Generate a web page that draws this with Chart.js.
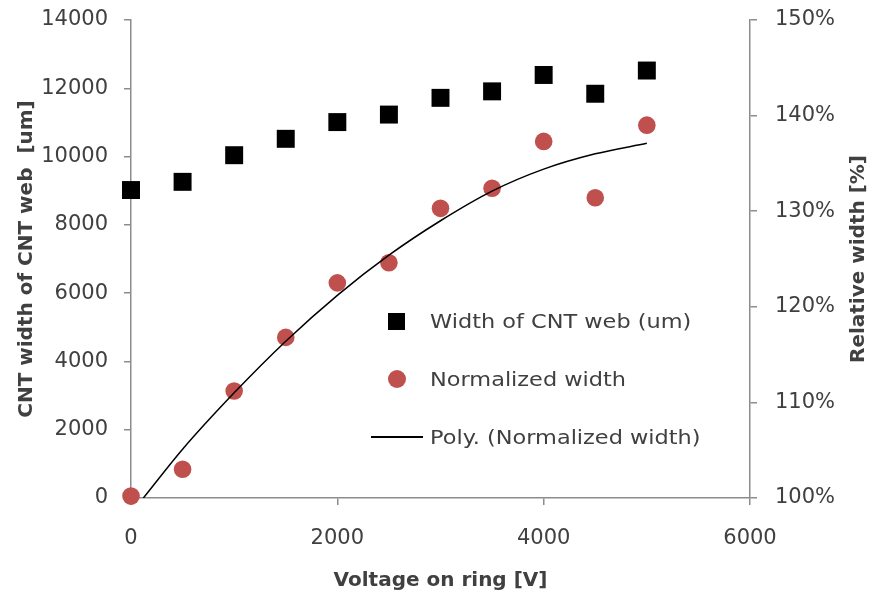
<!DOCTYPE html>
<html>
<head>
<meta charset="utf-8">
<script src="https://cdn.jsdelivr.net/npm/chart.js@4.4.1/dist/chart.umd.min.js"></script>
<style>
  html, body { margin: 0; padding: 0; background: #ffffff; }
  #wrap { position: relative; width: 870px; height: 592px; }
  canvas { display: block; }
  #legend { position: absolute; left: 0; top: 0; width: 870px; height: 592px; pointer-events: none;
            font-family: "DejaVu Sans", sans-serif; color: #404040; }
  .lg-text { position: absolute; left: 430px; height: 30px; line-height: 30px; font-size: 19px;
             white-space: nowrap; transform: scaleX(1.18); transform-origin: left center; }
  .lg-sym { position: absolute; }
</style>
</head>
<body>
<div id="wrap">
  <canvas id="chart" width="870" height="592"></canvas>
  <div id="legend"></div>
</div>
<script>
// Ring voltage [V]
const voltage = [0, 500, 1000, 1500, 2000, 2500, 3000, 3500, 4000, 4500, 5000];
// Width of the CNT web [um]
const webWidthUm = [9020, 9260, 10040, 10520, 11010, 11230, 11720, 11910, 12390, 11840, 12520];
// Width relative to the 0 V web [%]
const normalizedPct = [100.2, 103.0, 111.2, 116.8, 122.5, 124.6, 130.3, 132.4, 137.3, 131.4, 139.0];
// Polynomial trend of the normalized width
const trendVoltage = [120, 500, 1000, 1500, 2000, 2500, 3000, 3500, 4000, 4500, 5000];
const trendPct = [100.0, 105.1, 111.0, 116.4, 121.2, 125.4, 129.0, 132.1, 134.4, 136.0, 137.1];

const seriesLabels = ['Width of CNT web (um)', 'Normalized width', 'Poly. (Normalized width)'];
const xTicks = [0, 2000, 4000, 6000];
const leftTicks = [0, 2000, 4000, 6000, 8000, 10000, 12000, 14000];
const rightTicks = [100, 110, 120, 130, 140, 150];
const xTitle = 'Voltage on ring [V]';
const leftTitle = 'CNT width of CNT web  [um]';
const rightTitle = 'Relative width [%]';

const AXIS = '#8c8c8c';
const TEXT = '#404040';
const RED = '#c0504d';
const tickFont = { family: '"DejaVu Sans"', size: 21 };
const titleFont = { family: '"DejaVu Sans"', size: 20, weight: 'bold', lineHeight: 1 };

const pairs = (xs, ys) => xs.map((x, i) => ({ x: x, y: ys[i] }));
const fixedTicks = list => scale => { scale.ticks = list.map(v => ({ value: v })); };

function axisGrid() {
  return { display: true, drawOnChartArea: false, drawTicks: true, tickLength: 7,
           color: AXIS, lineWidth: 1.5 };
}

// vertical axes: fixed width, no extra room reserved for the end labels
const fitVertical = width => s => {
  s.width = width;
  s.paddingTop = 0;
  s.paddingBottom = 0;
};

// right-hand axis title, reading bottom to top
const rightTitlePlugin = {
  id: 'rightTitle',
  afterDraw(chart, args, opts) {
    const { ctx, chartArea } = chart;
    ctx.save();
    ctx.translate(opts.x, (chartArea.top + chartArea.bottom) / 2);
    ctx.rotate(-Math.PI / 2);
    ctx.font = 'bold 20px "DejaVu Sans"';
    ctx.fillStyle = TEXT;
    ctx.textAlign = 'center';
    ctx.textBaseline = 'middle';
    ctx.fillText(opts.text, 0, 0);
    ctx.restore();
  }
};

const chart = new Chart(document.getElementById('chart'), {
  type: 'scatter',
  data: {
    datasets: [
      {
        label: seriesLabels[2],
        data: pairs(trendVoltage, trendPct),
        yAxisID: 'y1',
        showLine: true,
        borderColor: '#000000',
        borderWidth: 1.5,
        pointRadius: 0,
        cubicInterpolationMode: 'monotone',
        order: 0
      },
      {
        label: seriesLabels[0],
        data: pairs(voltage, webWidthUm),
        yAxisID: 'y',
        pointStyle: 'rect',
        pointRadius: 12.7,
        backgroundColor: '#000000',
        borderColor: '#000000',
        borderWidth: 0,
        clip: false,
        order: 2
      },
      {
        label: seriesLabels[1],
        data: pairs(voltage, normalizedPct),
        yAxisID: 'y1',
        pointStyle: 'circle',
        pointRadius: 8.8,
        backgroundColor: RED,
        borderColor: RED,
        borderWidth: 0,
        clip: false,
        order: 1
      }
    ]
  },
  options: {
    responsive: false,
    animation: false,
    devicePixelRatio: 1,
    layout: { padding: { top: 20, left: 0, right: 0, bottom: 0 } },
    plugins: {
      legend: { display: false },
      tooltip: { enabled: false },
      rightTitle: { text: rightTitle, x: 859 }
    },
    scales: {
      x: {
        type: 'linear',
        position: 'bottom',
        min: 0, max: 6000,
        afterBuildTicks: fixedTicks(xTicks),
        afterFit: s => { s.height = 94; s.paddingLeft = 0; s.paddingRight = 0; },
        grid: axisGrid(),
        border: { display: true, color: AXIS, width: 1.5 },
        ticks: { font: tickFont, color: TEXT, padding: 21, maxRotation: 0, callback: v => String(v) },
        title: { display: true, text: xTitle, font: titleFont, color: TEXT, padding: { top: 0, bottom: 1 } }
      },
      y: {
        type: 'linear',
        position: 'left',
        min: 0, max: 14000,
        afterBuildTicks: fixedTicks(leftTicks),
        afterFit: fitVertical(131),
        grid: axisGrid(),
        border: { display: true, color: AXIS, width: 1.5 },
        ticks: { font: tickFont, color: TEXT, padding: 16, callback: v => String(v) },
        title: { display: true, text: leftTitle, font: titleFont, color: TEXT, padding: { top: 17, bottom: 0 } }
      },
      y1: {
        type: 'linear',
        position: 'right',
        min: 100, max: 150,
        afterBuildTicks: fixedTicks(rightTicks),
        afterFit: fitVertical(120),
        grid: axisGrid(),
        border: { display: true, color: AXIS, width: 1.5 },
        ticks: { font: tickFont, color: TEXT, padding: 18, callback: v => v + '%' }
      }
    }
  },
  plugins: [rightTitlePlugin]
});

// legend block inside the plot area
(function buildLegend() {
  const box = document.getElementById('legend');
  const rows = [
    { label: seriesLabels[0], cy: 321, sym: 'left:388px;top:312.5px;width:17px;height:17px;background:#000;' },
    { label: seriesLabels[1], cy: 379, sym: 'left:388px;top:370px;width:18px;height:18px;border-radius:50%;background:' + RED + ';' },
    { label: seriesLabels[2], cy: 437, sym: 'left:371px;top:436px;width:52px;height:1.5px;background:#000;' }
  ];
  rows.forEach(r => {
    const s = document.createElement('div');
    s.className = 'lg-sym';
    s.style.cssText = s.style.cssText + r.sym;
    box.appendChild(s);
    const t = document.createElement('div');
    t.className = 'lg-text';
    t.style.top = (r.cy - 15) + 'px';
    t.textContent = r.label;
    box.appendChild(t);
  });
})();
</script>
</body>
</html>
